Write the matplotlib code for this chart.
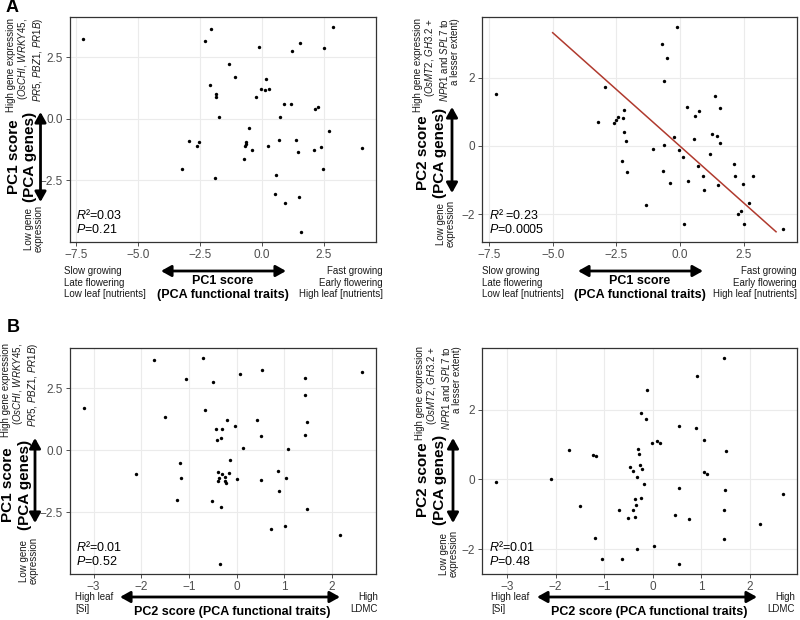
import matplotlib
matplotlib.use("Agg")
import matplotlib.pyplot as plt
from matplotlib.patches import FancyArrowPatch

plt.rcParams["font.family"] = ["Liberation Sans", "DejaVu Sans"]
plt.rcParams["mathtext.fontset"] = "custom"
plt.rcParams["mathtext.rm"] = "Liberation Sans"
plt.rcParams["mathtext.it"] = "Liberation Sans:italic"
plt.rcParams["mathtext.bf"] = "Liberation Sans:bold"

# --- panel A, left: PC1 traits vs PC1 genes
a1_traits = [-7.19, -2.04, -2.28, -0.12, 1.55, 1.24, 2.51, 2.88, -1.32, -1.09,
             -2.08, -1.83, -1.83, 0.16, -0.03, 0.13, 0.31, -0.24, 0.89, 1.18,
             2.16, 2.28, -1.73, 0.73, -0.51, 2.73, -2.93, -2.51, -2.61, -0.63,
             -0.65, -0.67, -0.39, 0.26, 0.71, 1.40, 1.45, 2.10, 2.41, 4.03,
             -0.70, -3.21, -1.87, 0.58, 2.49, 0.54, 1.49, 0.93, 1.59]
a1_genes = [3.27, 3.65, 3.18, 2.94, 3.10, 2.78, 2.88, 3.73, 2.24, 1.71,
            1.36, 1.00, 0.88, 1.62, 1.20, 1.16, 1.23, 0.88, 0.62, 0.59,
            0.42, 0.49, 0.07, 0.08, -0.39, -0.50, -0.92, -0.94, -1.11, -0.94,
            -1.04, -1.12, -1.28, -1.09, -0.88, -0.85, -1.35, -1.25, -1.15, -1.20,
            -1.64, -2.04, -2.39, -2.28, -2.06, -3.06, -3.18, -3.44, -4.60]

# --- panel A, right: PC1 traits vs PC2 genes
a2_traits = [-7.21, -2.95, -3.22, -2.61, -2.52, -2.42, -2.23, -2.19, -2.21, -2.11,
             -2.28, -2.09, -1.33, -1.08, -0.70, -0.52, -0.64, -0.14, -0.63, -0.26,
             -0.68, -0.40, -0.04, 0.12, 0.14, 0.25, 0.31, 0.57, 0.73, 0.54,
             0.69, 0.89, 0.93, 1.17, 1.24, 1.38, 1.45, 1.55, 1.58, 1.50,
             2.10, 2.15, 2.48, 2.86, 2.70, 2.40, 2.28, 2.52, 4.02]
a2_genes = [1.53, 1.73, 0.69, 0.66, 0.75, 0.84, 0.81, 1.05, 0.41, 0.13,
            -0.43, -0.76, -1.72, -0.10, 2.97, 2.56, 1.90, 3.47, 0.03, 0.25,
            -0.73, -1.08, -0.13, -0.31, -2.28, 1.14, -1.02, 0.87, 1.03, 0.19,
            -0.58, -0.87, -1.28, -0.24, 0.36, 1.47, 0.30, 1.10, 0.08, -1.13,
            -0.53, -0.87, -1.12, -0.87, -1.67, -1.90, -1.99, -2.28, -2.42]
a2_fit_x = [-5.0, 3.76]
a2_fit_y = [3.31, -2.51]

# --- panel B, left: PC2 traits vs PC1 genes
b1_traits = [-3.21, -2.11, -1.73, -1.51, -1.07, -1.19, -1.17, -1.24, -0.71, -0.49,
             -0.66, -0.43, -0.30, -0.42, -0.33, -0.20, -0.03, 0.07, 0.13, -0.14,
             -0.39, -0.30, -0.15, -0.36, -0.25, -0.39, -0.25, -0.23, 0.01, -0.52,
             -0.32, -0.34, 0.44, 0.53, 0.52, 0.52, 0.73, 0.88, 1.09, 1.03,
             0.89, 1.02, 1.43, 1.44, 1.47, 1.43, 1.47, 2.18, 2.63]
b1_genes = [1.70, -0.95, 3.62, 1.35, 2.87, -0.50, -1.10, -2.02, 3.70, 2.76,
            1.61, 0.87, 0.87, 0.40, 0.48, 1.21, 0.98, 3.07, 0.07, -0.40,
            -0.87, -0.94, -0.91, -1.13, -1.09, -1.26, -1.26, -1.34, -1.14, -2.05,
            -2.28, -4.57, 1.22, 3.24, 0.59, -1.19, -3.18, -0.84, 0.05, -1.10,
            -1.64, -3.06, 2.92, 2.21, 1.13, 0.62, -2.37, -3.42, 3.16]

# --- panel B, right: PC2 traits vs PC2 genes
b2_traits = [-3.22, -2.10, -1.73, -1.50, -1.23, -1.16, -1.18, -1.05, -0.64, -0.69,
             -0.51, -0.47, -0.41, -0.40, -0.37, -0.37, -0.34, -0.32, -0.30, -0.28,
             -0.27, -0.21, -0.32, -0.23, -0.13, -0.12, -0.18, -0.23, -0.01, 0.10,
             0.15, 0.03, 0.55, 0.55, 0.47, 0.55, 0.75, 0.90, 0.92, 1.06,
             1.06, 1.12, 1.47, 1.51, 1.50, 1.47, 1.48, 2.21, 2.68]
b2_genes = [-0.09, 0.02, 0.84, -0.77, 0.70, 0.66, -1.67, -2.28, -2.28, -0.87,
            -1.12, 0.36, 0.25, -0.87, -1.08, -0.57, -0.74, 0.07, 0.87, 0.74,
            0.41, 0.29, -1.99, 1.90, 1.73, 2.57, -0.13, -0.54, 1.05, 1.10,
            1.03, -1.90, -0.25, 1.53, -1.03, -2.42, -1.13, 1.47, 2.97, 1.14,
            0.20, 0.14, 3.47, 0.81, -0.31, -0.87, -1.72, -1.28, -0.43]

W, H = 800, 620
fig = plt.figure(figsize=(8, 6.2), dpi=100)


def fpx(x, y):
    # pixel position measured from top-left -> figure fraction
    return x / W, 1 - y / H


def panel(left, top, right, bottom, x, y, xticks, yticks, stats):
    ax = fig.add_axes([left / W, 1 - bottom / H, (right - left) / W, (bottom - top) / H])
    ax.scatter(x, y, s=6, c="black", linewidths=0, zorder=3)
    ax.set_xticks(xticks)
    ax.set_yticks(yticks)
    ax.grid(True, color="#EBEBEB", lw=0.8)
    ax.set_axisbelow(True)
    for sp in ax.spines.values():
        sp.set_color("#333333")
        sp.set_linewidth(0.9)
    ax.tick_params(length=3, width=0.6, color="#333333", labelcolor="#4D4D4D",
                   labelsize=8.5, pad=2)
    ax.text(0.022, 0.025, stats, transform=ax.transAxes, ha="left", va="bottom",
            fontsize=9, linespacing=1.15)
    return ax


def arrow(x0, y0, x1, y1):
    fig.add_artist(FancyArrowPatch(fpx(x0, y0), fpx(x1, y1), transform=fig.transFigure,
                                   arrowstyle="<|-|>,head_length=0.5,head_width=0.28",
                                   mutation_scale=12, lw=2.0, color="black",
                                   shrinkA=0, shrinkB=0))


def ftext(x, y, s, **kw):
    fig.text(*fpx(x, y), s, **kw)


genes_pc1 = "High gene expression\n($OsCHI$, $WRKY45$,\n$PR5$, $PBZ1$, $PR1B$)"
genes_pc2 = ("High gene expression\n($OsMT2$, $GH3.2$ +\n$NPR1$ and $SPL7$ to\n"
             "a lesser extent)")
low_genes = "Low gene\nexpression"
small = dict(fontsize=7, color="#1a1a1a", linespacing=1.2)
small_rot = dict(fontsize=7, color="#1a1a1a", linespacing=1.05, rotation=90)


def ylabels(gx, gy, gene_txt, bx, by, bold_txt, ax_x, a0, a1, lx, ly):
    ftext(gx, gy, gene_txt, ha="right", va="bottom", multialignment="right", **small_rot)
    ftext(bx, by, bold_txt, rotation=90, ha="center", va="center",
          multialignment="center", fontsize=11, fontweight="bold", linespacing=1.25)
    arrow(ax_x, a0, ax_x, a1)
    ftext(lx, ly, low_genes, ha="right", va="top", multialignment="center", **small_rot)


# ---------------- A left
panel(69.5, 17, 375.5, 242, a1_traits, a1_genes, [-7.5, -5, -2.5, 0, 2.5],
      [-2.5, 0, 2.5], "$R$²=0.03\n$P$=0.21")
# ---------------- A right
ax = panel(482, 17, 797, 242, a2_traits, a2_genes, [-7.5, -5, -2.5, 0, 2.5],
           [-2, 0, 2], "$R$² =0.23\n$P$=0.0005")
ax.plot(a2_fit_x, a2_fit_y, color="#B03A2E", lw=1.1, zorder=2)
# ---------------- B left
panel(69.7, 348, 375.7, 574, b1_traits, b1_genes, [-3, -2, -1, 0, 1, 2],
      [-2.5, 0, 2.5], "$R$²=0.01\n$P$=0.52")
# ---------------- B right
panel(482, 348, 797, 574, b2_traits, b2_genes, [-3, -2, -1, 0, 1, 2],
      [-2, 0, 2], "$R$²=0.01\n$P$=0.48")

# y-axis labels
ylabels(45, 112, genes_pc1, 22, 157, "PC1 score\n(PCA genes)", 40.5, 112, 202, 44, 205)
ylabels(460, 112, genes_pc2, 431.5, 153, "PC2 score\n(PCA genes)", 452, 107, 193, 456, 200)
ylabels(40, 437, genes_pc1, 16.5, 485, "PC1 score\n(PCA genes)", 35, 438, 523, 39, 537)
ylabels(462, 440, genes_pc2, 431.5, 480, "PC2 score\n(PCA genes)", 453, 438, 523, 459, 530)

# x-axis labels, panel A
slow = "Slow growing\nLate flowering\nLow leaf [nutrients]"
fast = "Fast growing\nEarly flowering\nHigh leaf [nutrients]"
for l, r, c in [(64, 383, 223), (482, 797, 640)]:
    ftext(l, 266, slow, ha="left", va="top", multialignment="left", **small)
    ftext(r, 266, fast, ha="right", va="top", multialignment="right", **small)
    arrow(c - 62, 271, c + 63, 271)
    ftext(c, 288, "PC1 score\n(PCA functional traits)", ha="center", va="center",
          multialignment="center", fontsize=9, fontweight="bold", linespacing=1.15)

# x-axis labels, panel B
for l, r, a0, a1, c in [(75, 378, 120, 340, 232), (491, 795, 537, 757, 649)]:
    ftext(l, 592, "High leaf\n[Si]", ha="left", va="top", multialignment="left", **small)
    ftext(r, 592, "High\nLDMC", ha="right", va="top", multialignment="right", **small)
    arrow(a0, 597, a1, 597)
    ftext(c, 612, "PC2 score (PCA functional traits)", ha="center", va="center",
          fontsize=9, fontweight="bold")

ftext(12, 8, "A", ha="center", va="center", fontsize=13, fontweight="bold")
ftext(13, 327, "B", ha="center", va="center", fontsize=13, fontweight="bold")

fig.savefig("out.png", dpi=100)
